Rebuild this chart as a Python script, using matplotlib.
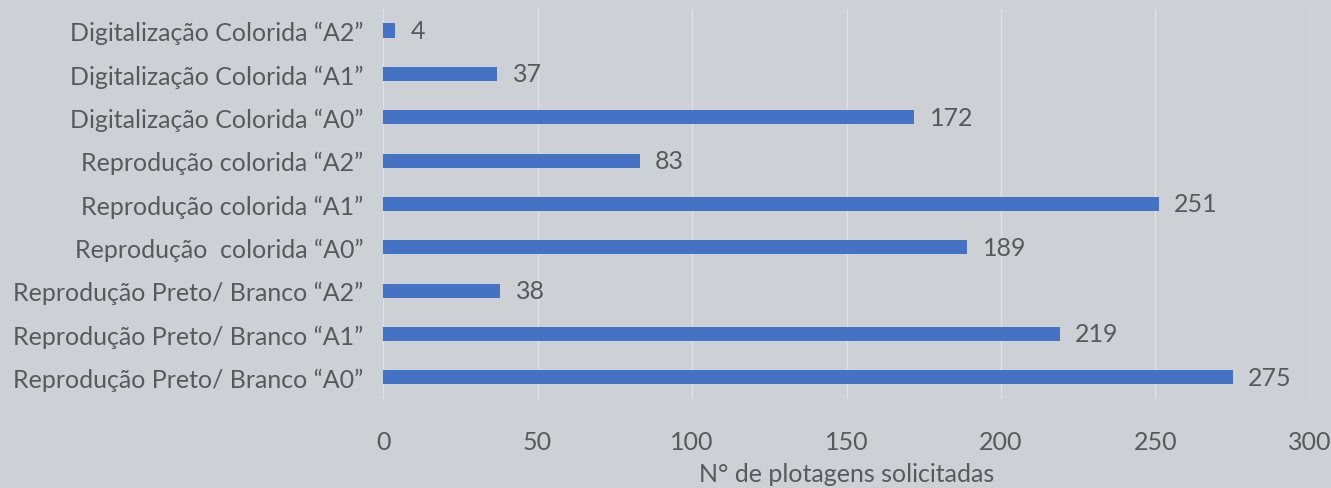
import matplotlib.pyplot as plt

# categorias (de baixo para cima, como no gráfico)
categorias = [
    'Reprodução Preto/ Branco “A0”',
    'Reprodução Preto/ Branco “A1”',
    'Reprodução Preto/ Branco “A2”',
    'Reprodução  colorida “A0”',
    'Reprodução colorida “A1”',
    'Reprodução colorida “A2”',
    'Digitalização Colorida “A0”',
    'Digitalização Colorida “A1”',
    'Digitalização Colorida “A2”',
]
valores = [275, 219, 38, 189, 251, 83, 172, 37, 4]
xticks = [0, 50, 100, 150, 200, 250, 300]

fundo = '#CDD1D5'
cinza = '#595959'
azul = '#4472C4'

plt.rcParams['font.family'] = ['Lato', 'DejaVu Sans']
fs = 18

fig = plt.figure(figsize=(13.31, 4.89), dpi=100, facecolor=fundo)
ax = fig.add_axes([0.2878, 0.182, 0.6964, 0.7976])
ax.set_facecolor(fundo)

y = range(len(categorias))
ax.barh(y, valores, height=0.33, color=azul, zorder=3)
for yi, v in zip(y, valores):
    ax.text(v + 5, yi, str(v), va='center', ha='left', fontsize=fs, color=cinza)

ax.set_xlim(0, 300)
ax.set_ylim(-0.5, len(categorias) - 0.5)
ax.set_xticks(xticks)
ax.set_yticks(list(y))
ax.set_yticklabels(categorias)
ax.grid(axis='x', color='#DFE2E5', linewidth=1, zorder=0)
ax.tick_params(axis='both', length=0, labelsize=fs, colors=cinza)
ax.tick_params(axis='x', pad=22)
ax.tick_params(axis='y', pad=14)
for s in ax.spines.values():
    s.set_visible(False)
ax.set_xlabel('N° de plotagens solicitadas', fontsize=fs, color=cinza, labelpad=7)

fig.savefig('out.png', dpi=100, facecolor=fundo)
